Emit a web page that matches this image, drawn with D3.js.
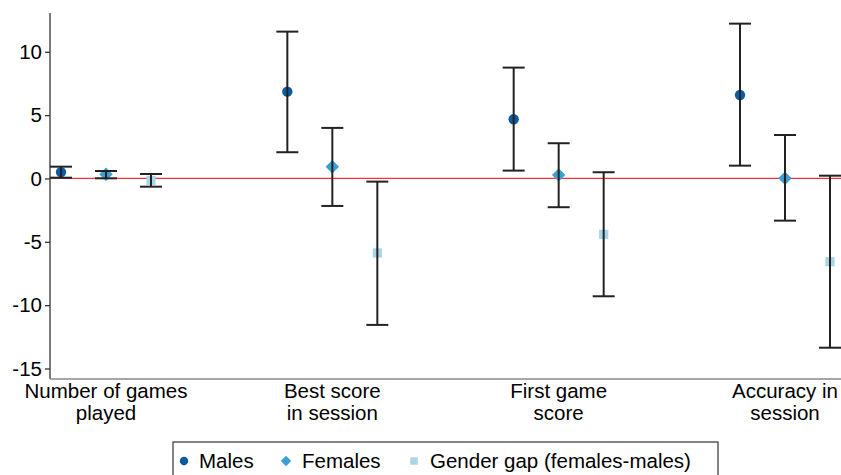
<!DOCTYPE html>
<html>
<head>
<meta charset="utf-8">
<script src="https://cdn.jsdelivr.net/npm/d3@7"></script>
<style>
  html, body { margin: 0; padding: 0; background: #fff; }
  svg { display: block; font-family: "Liberation Sans", Arial, Helvetica, sans-serif; }
</style>
</head>
<body>
<svg id="chart" width="841" height="475"></svg>
<script>
// Outcome categories (two-line labels)
const categories = [
  ["Number of games", "played"],
  ["Best score", "in session"],
  ["First game", "score"],
  ["Accuracy in", "session"]
];

// Point estimates and 95% confidence bounds per series
const malesEst   = [0.50, 6.85, 4.67, 6.59];
const malesLo    = [0.06, 2.07, 0.62, 1.01];
const malesHi    = [0.93, 11.59, 8.75, 12.22];

const femalesEst = [0.33, 0.93, 0.28, 0.02];
const femalesLo  = [0.01, -2.17, -2.27, -3.33];
const femalesHi  = [0.59, 3.99, 2.78, 3.43];

const gapEst     = [-0.15, -5.88, -4.41, -6.57];
const gapLo      = [-0.65, -11.56, -9.30, -13.36];
const gapHi      = [0.35, -0.25, 0.49, 0.22];

const yTicks = [10, 5, 0, -5, -10, -15];

const seriesNames = ["Males", "Females", "Gender gap (females-males)"];
const seriesColors = ["#0b5ba3", "#3c9fd2", "#a9d4ea"];
// circle, diamond (square turned 45°), square
const seriesShapes = [d3.symbolCircle, d3.symbolSquare, d3.symbolSquare];
const seriesRotate = [0, 45, 0];

const series = [
  { est: malesEst, lo: malesLo, hi: malesHi },
  { est: femalesEst, lo: femalesLo, hi: femalesHi },
  { est: gapEst, lo: gapLo, hi: gapHi }
];

const svg = d3.select("#chart");
const plotLeft = 50, plotRight = 841, plotTop = 13, plotBottom = 379;
const fontSize = 20.5;

const y = d3.scaleLinear().domain([-15.83, 13.06]).range([plotBottom, plotTop]);
const x = d3.scalePoint().domain(d3.range(categories.length)).range([106, 785]);
const offset = d3.scalePoint().domain([0, 1, 2]).range([-45, 45]);

// Zero reference line
svg.append("line")
  .attr("x1", plotLeft).attr("x2", plotRight)
  .attr("y1", y(0)).attr("y2", y(0))
  .attr("stroke", "#ff3333").attr("stroke-width", 1.2);

// Y axis
const yAxis = d3.axisLeft(y).tickValues(yTicks).tickSize(5).tickPadding(3).tickFormat(d3.format("d"));
const gy = svg.append("g").attr("transform", `translate(${plotLeft},0)`).call(yAxis);
gy.select(".domain").attr("d", `M0,${plotTop}V${plotBottom}`).attr("stroke", "#333").attr("stroke-width", 1.3);
gy.selectAll(".tick line").attr("stroke", "#333").attr("stroke-width", 1.3);
gy.selectAll(".tick text")
  .attr("font-size", fontSize).attr("fill", "#000")
  .attr("font-family", "Liberation Sans, Arial, sans-serif")
  .text(d => d < 0 ? "-" + Math.abs(d) : d);

// X axis baseline
svg.append("line")
  .attr("x1", plotLeft).attr("x2", plotRight)
  .attr("y1", plotBottom).attr("y2", plotBottom)
  .attr("stroke", "#888").attr("stroke-width", 1.5);

// Category labels
const catG = svg.append("g");
categories.forEach((lines, i) => {
  const t = catG.append("text")
    .attr("x", x(i)).attr("y", 398)
    .attr("text-anchor", "middle")
    .attr("font-size", fontSize).attr("fill", "#000");
  lines.forEach((ln, j) => {
    t.append("tspan").attr("x", x(i)).attr("dy", j === 0 ? 0 : 22).text(ln);
  });
});

// Markers and error bars
const capHalf = 11;
const symbolSizes = [85, 90, 85];
series.forEach((s, si) => {
  const g = svg.append("g");
  categories.forEach((c, i) => {
    const cx = x(i) + offset(si);
    g.append("path")
      .attr("d", d3.symbol(seriesShapes[si], symbolSizes[si])())
      .attr("transform", `translate(${cx},${y(s.est[i])}) rotate(${seriesRotate[si]})`)
      .attr("fill", seriesColors[si]);
    const eb = g.append("g").attr("stroke", "#222").attr("stroke-width", 2).attr("fill", "none");
    eb.append("line").attr("x1", cx).attr("x2", cx).attr("y1", y(s.lo[i])).attr("y2", y(s.hi[i]));
    eb.append("line").attr("x1", cx - capHalf).attr("x2", cx + capHalf).attr("y1", y(s.hi[i])).attr("y2", y(s.hi[i]));
    eb.append("line").attr("x1", cx - capHalf).attr("x2", cx + capHalf).attr("y1", y(s.lo[i])).attr("y2", y(s.lo[i]));
  });
});

// Legend
const legend = svg.append("g");
legend.append("rect")
  .attr("x", 173).attr("y", 442).attr("width", 545).attr("height", 50)
  .attr("fill", "#fff").attr("stroke", "#333").attr("stroke-width", 1.2);
const legendItems = [
  { mx: 184, tx: 199 },
  { mx: 286, tx: 302 },
  { mx: 414, tx: 430 }
];
const legendSizes = [55, 55, 55];
legendItems.forEach((it, i) => {
  legend.append("path")
    .attr("d", d3.symbol(seriesShapes[i], legendSizes[i])())
    .attr("transform", `translate(${it.mx},461) rotate(${seriesRotate[i]})`)
    .attr("fill", seriesColors[i]);
  legend.append("text")
    .attr("x", it.tx).attr("y", 468)
    .attr("font-size", fontSize).attr("fill", "#000")
    .text(seriesNames[i]);
});
</script>
</body>
</html>
